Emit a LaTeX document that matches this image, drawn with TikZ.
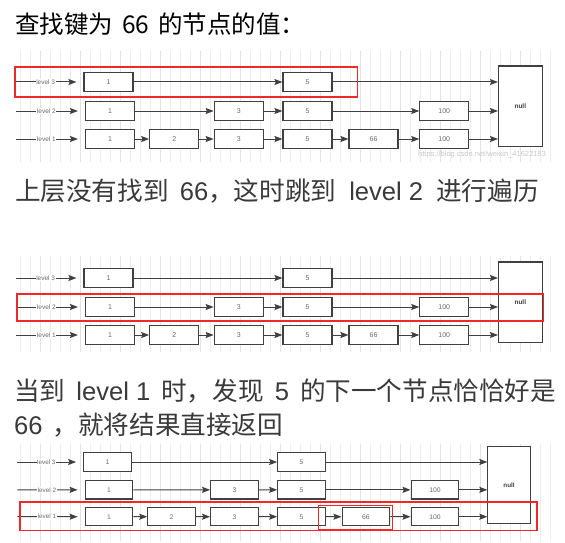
\documentclass[tikz,border=0pt]{standalone}
\usepackage{fontspec}
\setmainfont{Liberation Sans}
\newfontfamily\cjk{Noto Sans CJK SC}
\usetikzlibrary{arrows.meta, calc, positioning}
\definecolor{lgray}{HTML}{404040}
\definecolor{tgray}{HTML}{6A6A6A}
\definecolor{hgray}{HTML}{3A3A3A}
\definecolor{redm}{HTML}{F02828}

\begin{document}
\begin{tikzpicture}[x=1pt, y=-1pt,
            box/.style={draw=lgray, fill=white, line width=1.1pt, minimum width=49pt, minimum height=19pt, inner sep=0pt, font=\fontsize{7}{8}\selectfont, text=tgray},
            link/.style={-{Stealth[length=8pt, width=6pt, inset=1.2pt]}, lgray, line width=1pt},
            lvl/.style={fill=white, inner sep=0.6pt, font=\fontsize{6.5}{7}\selectfont, text=tgray},
            redframe/.style={draw=redm, line width=1.5pt}]
        \fill[white] (0,0) rectangle (565,543);
        \useasboundingbox (0,0) rectangle (565,543);
        \tikzstyle{head}=[anchor=base west, inner sep=0pt, font=\fontsize{25.6}{26}\selectfont, text=hgray]
        % background grids
        \foreach \y/\h in {51/111, 256/96, 444/97}{
            \draw[black!7, line width=0.4pt, step=10] (14,\y) grid ++(542,\h);
            \draw[black!11, line width=0.4pt, step=40] (14,\y) grid ++(542,\h);
        }
        % headings
        \node[head, font=\fontsize{24.5}{25}\selectfont, text=black] (head1) at (15,34) {{\cjk 查找键为}\hspace{9pt}{\cjk 66}\hspace{9pt}{\cjk 的节点的值：}};
        \node[head] (head2) at (15,200) {{\cjk 上层没有找到}\hspace{11pt}66{\cjk ，这时跳到}\hspace{13pt}level 2\hspace{13pt}{\cjk 进行遍历}};
        \node[head] (head3) at (14,400) {{\cjk 当到}\hspace{11pt}level 1\hspace{11pt}{\cjk 时，发现}\hspace{11pt}5\hspace{11pt}{\cjk 的下一个节点恰恰好是}};
        \node[head] (head4) at (14,434) {66\hspace{10pt}{\cjk ，就将结果直接返回}};
        % the three skip lists
        \foreach \p/\sx/\sy/\dx/\dy in {t/1/1/0/82, m/1/1/0/278, b/.975/.96/1.8/462}{
            \begin{scope}[shift={(\dx,\dy)}, xscale=\sx, yscale=\sy, transform shape]
                \node[box] (\p-3-1) at (108.5,0) {1};
                \node[box] (\p-3-4) at (307.5,0) {5};
                \node[box] (\p-2-1) at (110,29) {1};
                \node[box] (\p-2-3) at (238.7,29) {3};
                \node[box] (\p-2-4) at (307.5,29) {5};
                \node[box] (\p-2-6) at (444.3,29) {100};
                \foreach \c/\x/\v in {1/110/1, 2/174.2/2, 3/238.7/3, 4/307.5/5, 5/373.5/66, 6/444.3/100}
                    \node[box] (\p-1-\c) at (\x,57) {\v};
                \node[box, minimum width=43.5pt, minimum height=80.5pt, font=\bfseries\fontsize{6.5}{7}\selectfont, text=lgray] (\p-null) at (520.3,24.25) {null};
                \foreach \l/\y in {3/0, 2/29, 1/57}{
                    \coordinate (\p-s-\l) at (16,\y);
                    \draw[link, shorten >=7pt] (\p-s-\l) -- node[lvl, pos=.44] {level \l} (\p-\l-1);
                }
                \foreach \a/\b in {3-1/3-4, 2-1/2-3, 2-3/2-4, 2-4/2-6, 1-1/1-2, 1-2/1-3, 1-3/1-4, 1-4/1-5, 1-5/1-6}
                    \draw[link] (\p-\a) -- (\p-\b);
                \foreach \a in {3-4, 2-6, 1-6}
                    \draw[link] (\p-\a.east) -- (\p-\a.east -| \p-null.west);
            \end{scope}
        }
        \node[font=\fontsize{7.5}{8}\selectfont, text=black!22] (mark1) at (482,155) {https://blog.csdn.net/weixin\_41622183};
        % search path frames
        \draw[redframe] ($(t-s-3)+(-1,-15)$) rectangle ($(t-3-4.east)+(25,15)$);
        \draw[redframe] ($(m-s-2)+(1,-13)$) rectangle ($(m-null.east |- m-s-2)+(1,14)$);
        \draw[redframe] ($(b-s-1)+(2.6,-14.7)$) rectangle ($(b-null.east |- b-s-1)+(6,14)$);
        \draw[redframe] ($(b-1-5.west)+(-23,-11)$) rectangle ($(b-1-5.east)+(2,13)$);
    \end{tikzpicture}
\end{document}
